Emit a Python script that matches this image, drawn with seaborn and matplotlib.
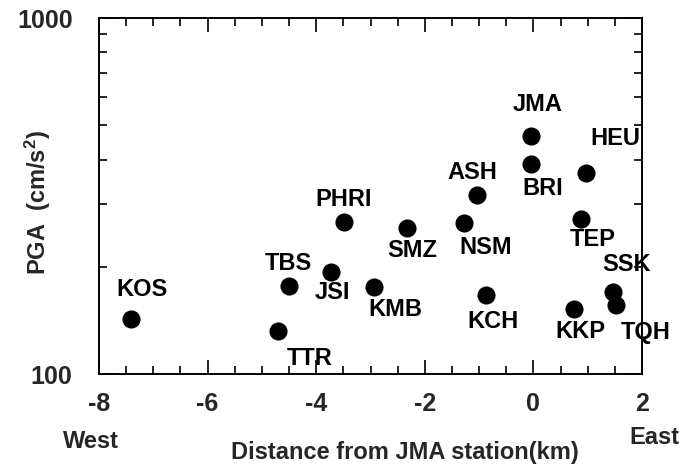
import numpy as np
import pandas as pd
import matplotlib
matplotlib.use("Agg")
import matplotlib.pyplot as plt
from matplotlib.ticker import FixedLocator, LogLocator, NullFormatter, FixedFormatter
import seaborn as sns

# ---- data ----
stations = ["KOS", "TTR", "TBS", "JSI", "PHRI", "SMZ", "KMB", "NSM", "ASH", "KCH",
            "JMA", "BRI", "HEU", "TEP", "SSK", "TQH", "KKP"]
distance_km = [-7.41, -4.71, -4.51, -3.73, -3.49, -2.33, -2.93, -1.28, -1.04, -0.87,
               -0.04, -0.04, 0.97, 0.87, 1.47, 1.53, 0.74]
pga = [143, 132, 177, 193, 267, 257, 176, 265, 318, 167,
       467, 389, 368, 272, 170, 156, 152]
# label offsets (pixels) relative to each point
label_dx = [11, 32, 0, 2, 0, 5, 21, 22, -5, 7, 6, 12, 29, 12, 13, 29, 7]
label_dy = [-29, 27, -22, 20, -23, 22, 23, 24, -23, 27, -31, 25, -34, 20, -27, 27, 22]
xticks = [-8, -6, -4, -2, 0, 2]
xticklabels = ["-8", "-6", "-4", "-2", "0", "2"]

df = pd.DataFrame({"station": stations, "x": distance_km, "pga": pga})

sns.set_theme(style="ticks")
plt.rcParams["font.family"] = ["Liberation Sans", "DejaVu Sans"]
plt.rcParams["font.weight"] = "bold"
plt.rcParams["mathtext.fontset"] = "custom"
plt.rcParams["mathtext.rm"] = "Liberation Sans:bold"
plt.rcParams["mathtext.it"] = "Liberation Sans:bold"
plt.rcParams["mathtext.default"] = "rm"

W, H = 679, 466
fig = plt.figure(figsize=(W / 100, H / 100), dpi=100)
L, R, T, B = 99, 642, 18, 374
ax = fig.add_axes([L / W, 1 - B / H, (R - L) / W, (B - T) / H])

sns.scatterplot(data=df, x="x", y="pga", ax=ax, color="black", s=170,
                edgecolor="black", linewidth=0, legend=False)
ax.set_yscale("log")
ax.set_xlim(-8, 2)
ax.set_ylim(100, 1000)

for s, x, y, dx, dy in zip(stations, distance_km, pga, label_dx, label_dy):
    ax.annotate(s, (x, y), xytext=(dx, -dy), textcoords="offset pixels",
                ha="center", va="center", fontsize=17, fontweight="bold",
                color="black")

ax.xaxis.set_major_locator(FixedLocator(xticks))
ax.xaxis.set_major_formatter(FixedFormatter(xticklabels))
ax.xaxis.set_minor_locator(FixedLocator(np.arange(-8, 2.01, 0.5)))
ax.yaxis.set_major_locator(FixedLocator([100, 1000]))
ax.yaxis.set_major_formatter(FixedFormatter(["100", "1000"]))
ax.yaxis.set_minor_locator(LogLocator(base=10, subs=np.arange(2, 10)))
ax.yaxis.set_minor_formatter(NullFormatter())

ax.tick_params(axis="both", which="both", direction="in", top=True, right=True,
               color="black", width=1.2)
ax.tick_params(axis="both", which="major", length=10, labelsize=18)
ax.tick_params(axis="both", which="minor", length=6)
ax.tick_params(axis="x", which="major", pad=13)
ax.tick_params(axis="y", which="major", pad=19)
for lbl in ax.get_xticklabels() + ax.get_yticklabels():
    lbl.set_fontweight("bold")
for sp in ax.spines.values():
    sp.set_visible(True)
    sp.set_color("black")
    sp.set_linewidth(1.4)

ax.set_xlabel("")
ax.set_ylabel("")
fig.text(38 / W, 1 - 203 / H, "PGA  (cm/s$^2$)", rotation=90, ha="center",
         va="center", fontsize=17, fontweight="bold")
fig.text(405 / W, 1 - 452 / H, "Distance from JMA station(km)", ha="center",
         va="center", fontsize=17, fontweight="bold")
fig.text(91 / W, 1 - 442 / H, "West", ha="center", va="center", fontsize=17,
         fontweight="bold")
fig.text(654 / W, 1 - 437 / H, "East", ha="center", va="center", fontsize=17,
         fontweight="bold")

fig.savefig("out.png", dpi=100, facecolor="white")
